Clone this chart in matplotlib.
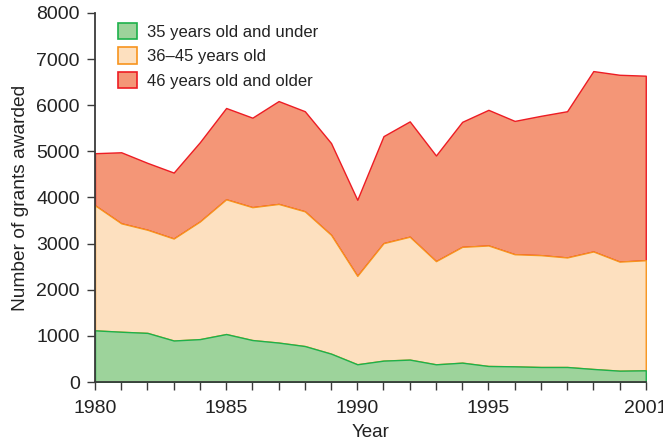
import matplotlib
matplotlib.use("Agg")
import matplotlib.pyplot as plt
from matplotlib.patches import Patch
import numpy as np

years = list(range(1980, 2002))
under35 = [1120, 1090, 1065, 900, 930, 1040, 910, 855, 780, 615, 385,
           464, 486, 384, 420, 348, 340, 326, 326, 283, 246, 254]
cum_mid = [3830, 3440, 3300, 3110, 3480, 3960, 3790, 3860, 3700, 3190, 2300,
           3010, 3150, 2620, 2930, 2960, 2770, 2750, 2700, 2830, 2610, 2640]
total = [4960, 4980, 4750, 4540, 5200, 5940, 5730, 6090, 5870, 5180, 3950,
         5330, 5650, 4910, 5640, 5900, 5660, 5770, 5870, 6740, 6660, 6640]
age36_45 = [m - u for m, u in zip(cum_mid, under35)]
age46plus = [t - m for t, m in zip(total, cum_mid)]

labels = ["35 years old and under", "36\u201345 years old", "46 years old and older"]
fills = ["#9dd39b", "#fde0bf", "#f49677"]
edges = ["#1db14b", "#f7941d", "#ed1c24"]
xtick_vals = [1980, 1985, 1990, 1995, 2001]

plt.rcParams['font.family'] = ['Liberation Sans', 'DejaVu Sans']

fig = plt.figure(figsize=(6.63, 4.42), dpi=100)
ax = fig.add_axes([0.1433, 0.1357, 0.8307, 0.835])

x = np.array(years)
layers = [np.array(under35), np.array(age36_45), np.array(age46plus)]
base = np.zeros(len(x))
for i, (vals, fc, ec) in enumerate(zip(layers, fills, edges)):
    top = base + vals
    ax.fill_between(x, base, top, facecolor=fc, edgecolor=ec, linewidth=1.0,
                    zorder=5 - i)
    base = top

ax.set_xlim(1980, 2001)
ax.set_ylim(0, 8000)
ax.set_xticks(xtick_vals)
ax.set_xticklabels([str(v) for v in xtick_vals])
ax.set_xticks(years, minor=True)
ax.set_yticks(range(0, 8001, 1000))

for s in ["top", "right"]:
    ax.spines[s].set_visible(False)
for s in ["left", "bottom"]:
    ax.spines[s].set_color("#3a3a3a")
    ax.spines[s].set_linewidth(1.3)
    ax.spines[s].set_zorder(10)

ax.tick_params(axis="both", which="both", direction="out", length=6,
               width=1.0, color="#3a3a3a", labelsize=14, labelcolor="#222222")
ax.tick_params(axis="x", which="minor", length=6)
ax.tick_params(axis="x", pad=7)
ax.tick_params(axis="y", pad=5)

ax.set_xlabel("Year", fontsize=13.5, color="#222222", labelpad=5)
ax.set_ylabel("Number of grants awarded", fontsize=13.8, color="#222222", labelpad=5)

handles = [Patch(facecolor=fc, edgecolor=ec, linewidth=1.2) for fc, ec in zip(fills, edges)]
leg = ax.legend(handles, labels, loc="upper left", bbox_to_anchor=(0.02, 1.005),
                frameon=False, fontsize=12, handlelength=1.15, handleheight=1.15,
                labelspacing=0.45, handletextpad=0.6, borderaxespad=0.3)
for t in leg.get_texts():
    t.set_color("#222222")

fig.savefig("out.png", dpi=100)
